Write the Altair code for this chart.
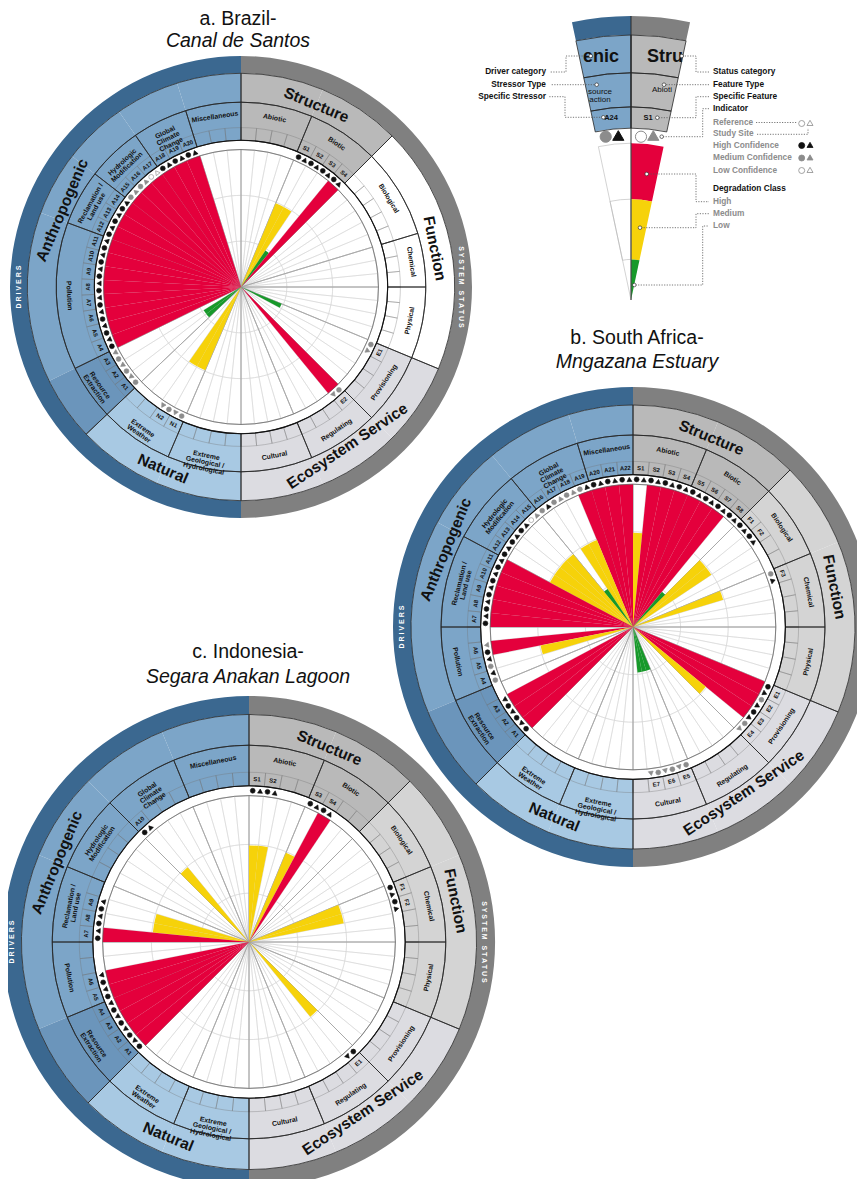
import math
import altair as alt
import pandas as pd

OFF = 8
W, H = 849, 1171
FONT = "Liberation Sans"

# ===================== DATA =====================
LEFT_TYPES = ["Miscellaneous", "Global\nClimate\nChange", "Hydrologic\nModification",
              "Reclamation /\nLand use", "Pollution", "Resource\nExtraction",
              "Extreme\nWeather", "Extreme\nGeological /\nHydrological"]
RIGHT_TYPES = ["Abiotic", "Biotic", "Biological", "Chemical", "Physical",
               "Provisioning", "Regulating", "Cultural"]
LEFT_GROUPS = ["Anthropogenic", "Natural"]
LEFT_GROUP_SIZE = [6, 2]
RIGHT_GROUPS = ["Structure", "Function", "Ecosystem Service"]
RIGHT_GROUP_SIZE = [2, 3, 3]

# ---- a. Brazil - Canal de Santos ----
BR_LEFT_SPANS = [3, 3, 3, 3, 8, 3, 4, 4]
BR_RIGHT_SPANS = [4, 4, 5, 3, 4, 4, 4, 4]
BR_DRIVER = ["A20", "A19", "A18", "A17", "A16", "A15", "A14", "A13", "A12", "A11", "A10",
             "A9", "A8", "A7", "A6", "A5", "A4", "A3", "A2", "A1", "N2", "N1"]
BR_DRIVER_SLOT = [3, 4, 5, 6, 7, 8, 9, 10, 11, 12, 13, 14, 15, 16, 17, 18, 19, 20, 21, 22, 25, 26]
BR_DRIVER_CLASS = ["High"] * 17 + ["", "Low", "Low", "Medium", "Medium"]
BR_DRIVER_REF = ["H", "H", "H", "L", "M", "M"] + ["H"] * 11 + ["M"] * 5
BR_DRIVER_SITE = ["H", "H", "H", "L", "M", "M"] + ["H"] * 11 + ["M"] * 5
BR_STATUS = ["S1", "S2", "S3", "S4", "E1", "E2"]
BR_STATUS_SLOT = [4, 5, 6, 7, 20, 24]
BR_STATUS_CLASS = ["Medium", "Medium", "Low", "High", "Low", "High"]
BR_STATUS_REF = ["H", "H", "H", "H", "M", "M"]
BR_STATUS_SITE = ["H", "H", "H", "H", "M", "M"]

# ---- b. South Africa - Mngazana Estuary ----
SA_LEFT_SPANS = [3, 4, 4, 5, 4, 4, 4, 4]
SA_RIGHT_SPANS = [4, 4, 4, 4, 4, 4, 4, 4]
SA_DRIVER = ["A22", "A21", "A20", "A19", "A18", "A17", "A16", "A15", "A14", "A13", "A12",
             "A11", "A10", "A9", "A8", "A7", "A6", "A5", "A4", "A3", "A2", "A1"]
SA_DRIVER_SLOT = [0, 1, 2, 3, 4, 5, 6, 7, 8, 9, 10, 11, 12, 13, 14, 15, 17, 18, 19, 21, 22, 23]
SA_DRIVER_CLASS = ["High", "High", "High", "High", "Medium", "Medium", "Low", "Medium", "Medium",
                   "Medium", "Medium", "High", "High", "High", "High", "High", "High", "Medium",
                   "", "High", "High", "High"]
SA_DRIVER_REF = ["H", "H", "H", "M", "M", "M", "M", "L", "H", "H", "H", "H", "H", "H", "H", "H",
                 "H", "M", "M", "H", "H", "H"]
SA_DRIVER_SITE = ["H", "H", "H", "H", "M", "M", "H", "M", "H", "H", "H", "H", "H", "H", "H", "H",
                  "M", "H", "H", "H", "H", "H"]
SA_STATUS = ["S1", "S2", "S3", "S4", "S5", "S6", "S7", "S8", "F1", "F2", "F3",
             "E1", "E2", "E3", "E4", "E5", "E6", "E7"]
SA_STATUS_SLOT = [0, 1, 2, 3, 4, 5, 6, 7, 8, 9, 12, 20, 21, 22, 23, 28, 29, 30]
SA_STATUS_CLASS = ["Medium", "High", "High", "High", "High", "High", "High", "Low", "Medium",
                   "Medium", "Medium", "High", "High", "High", "Medium", "Low", "Low", "Low"]
SA_STATUS_REF = ["H"] * 8 + ["H", "H", "M", "H", "M", "H", "M", "M", "M", "M"]
SA_STATUS_SITE = ["H"] * 8 + ["H", "H", "H", "H", "H", "H", "M", "M", "M", "M"]

# ---- c. Indonesia - Segara Anakan Lagoon ----
ID_LEFT_SPANS = [4, 4, 4, 4, 4, 4, 4, 4]
ID_RIGHT_SPANS = [4, 4, 4, 4, 4, 4, 4, 4]
ID_DRIVER = ["A10", "A9", "A8", "A7", "A6", "A5", "A4", "A3", "A2", "A1"]
ID_DRIVER_SLOT = [7, 13, 14, 15, 18, 19, 20, 21, 22, 23]
ID_DRIVER_CLASS = ["Medium", "Medium", "Medium", "High", "High", "High", "High", "High", "High", "High"]
ID_DRIVER_REF = ["H"] * 10
ID_DRIVER_SITE = ["H"] * 10
ID_STATUS = ["S1", "S2", "S3", "S4", "F1", "F2", "E1"]
ID_STATUS_SLOT = [0, 1, 4, 5, 12, 13, 24]
ID_STATUS_CLASS = ["Medium", "Medium", "Medium", "High", "Medium", "Medium", "Medium"]
ID_STATUS_REF = ["H"] * 7
ID_STATUS_SITE = ["H"] * 7

CHARTS = [
    dict(cx=241 - OFF, cy=287 - OFF, R=231, func_empty=True,
         lspans=BR_LEFT_SPANS, rspans=BR_RIGHT_SPANS,
         d=(BR_DRIVER, BR_DRIVER_SLOT, BR_DRIVER_CLASS, BR_DRIVER_REF, BR_DRIVER_SITE),
         s=(BR_STATUS, BR_STATUS_SLOT, BR_STATUS_CLASS, BR_STATUS_REF, BR_STATUS_SITE),
         title=("a.  Brazil-", "Canal de Santos"), tpos=(238 - OFF, 19 - OFF, 41 - OFF)),
    dict(cx=633 - OFF, cy=627 - OFF, R=240, func_empty=False,
         lspans=SA_LEFT_SPANS, rspans=SA_RIGHT_SPANS,
         d=(SA_DRIVER, SA_DRIVER_SLOT, SA_DRIVER_CLASS, SA_DRIVER_REF, SA_DRIVER_SITE),
         s=(SA_STATUS, SA_STATUS_SLOT, SA_STATUS_CLASS, SA_STATUS_REF, SA_STATUS_SITE),
         title=("b. South Africa-", "Mngazana Estuary"), tpos=(637 - OFF, 338 - OFF, 362 - OFF)),
    dict(cx=249 - OFF, cy=942 - OFF, R=246, func_empty=False,
         lspans=ID_LEFT_SPANS, rspans=ID_RIGHT_SPANS,
         d=(ID_DRIVER, ID_DRIVER_SLOT, ID_DRIVER_CLASS, ID_DRIVER_REF, ID_DRIVER_SITE),
         s=(ID_STATUS, ID_STATUS_SLOT, ID_STATUS_CLASS, ID_STATUS_REF, ID_STATUS_SITE),
         title=("c. Indonesia-", "Segara Anakan Lagoon"), tpos=(248 - OFF, 652 - OFF, 677 - OFF)),
]

# ===================== STYLE =====================
RING = (0.925, 0.80, 0.69, 0.635, 0.595)      # band / category / type / label / plot radii
GRID = ((0, 1 / 3), (1 / 3, 2 / 3), (2 / 3, 1))
BAR_LEN = {"High": 1.0, "Medium": 0.66, "Low": 0.32}
FILL_KEYS = ["bandL", "bandR", "Anthro", "Resource", "Natural", "Structure", "Function",
             "FunctionEmpty", "Eco", "white", "High", "Medium", "Low", "H", "M", "L"]
FILL_COLS = ["#3b6890", "#808080", "#7ca5c8", "#6b95bb", "#a8c9e3", "#b9b9b9", "#d4d4d4",
             "#ffffff", "#dcdce1", "#ffffff", "#e4003c", "#f6d20a", "#17992a",
             "#111111", "#8c8c8c", "#ffffff"]
FILL_SCALE = alt.Scale(domain=FILL_KEYS, range=FILL_COLS)
STROKE_SCALE = alt.Scale(domain=["H", "M", "L"], range=["#111111", "#8c8c8c", "#8c8c8c"])
CAT_FS = 15.5
TYPE_FS = 6.9
ITEM_FS = 5.9


def sector_deg(side, k0, k1, n):
    w = 180.0 / n
    if side == "L":
        return 360 - k1 * w, 360 - k0 * w
    return k0 * w, k1 * w


def polar(cx, cy, r, a):
    t = math.radians(a)
    return cx + r * math.sin(t), cy - r * math.cos(t)


def tangent_rot(a):
    a = ((a + 180) % 360) - 180
    if -90 <= a <= 90:
        r = a
    elif a > 90:
        r = a - 180
    else:
        r = a + 180
    return r % 360


def arc(cx, cy, r0, r1, a0, a1, kind=""):
    return dict(cx=cx, cy=cy, r0=r0, r1=r1, t0=math.radians(a0), t1=math.radians(a1), kind=kind)


def type_kind(side, ti, func_empty):
    if side == "L":
        if ti == 5:
            return "Resource"
        return "Anthro" if ti < 6 else "Natural"
    if ti < 2:
        return "Structure"
    if ti < 5:
        return "FunctionEmpty" if func_empty else "Function"
    return "Eco"


rows_fill, rows_lsec, rows_grid, rows_tb, rows_tout, rows_cout = [], [], [], [], [], []
rows_c4, rows_c5, rows_bar = [], [], []
rows_pc, rows_pt = [], []
rows_tcat, rows_ttype, rows_titem, rows_tband, rows_title, rows_sub = [], [], [], [], [], []

for C in CHARTS:
    cx, cy, R = C["cx"], C["cy"], C["R"]
    R1, R2, R3, R4, R5 = (R * f for f in RING)
    halves = {
        "L": (C["lspans"], LEFT_TYPES, LEFT_GROUPS, LEFT_GROUP_SIZE),
        "R": (C["rspans"], RIGHT_TYPES, RIGHT_GROUPS, RIGHT_GROUP_SIZE),
    }
    for side, (spans, types, groups, gsizes) in halves.items():
        n = sum(spans)
        a0, a1 = sector_deg(side, 0, n, n)
        rows_fill.append(arc(cx, cy, R1, R, a0, a1, "band" + side))
        starts = [sum(spans[:i]) for i in range(len(spans))]
        for ti, (tname, sp) in enumerate(zip(types, spans)):
            a0, a1 = sector_deg(side, starts[ti], starts[ti] + sp, n)
            rows_fill.append(arc(cx, cy, R4, R1, a0, a1, type_kind(side, ti, C["func_empty"])))
            rows_tout.append(arc(cx, cy, R4, R2, a0, a1))
            rows_tb.append(arc(cx, cy, 0, R5, a0, a1))
            am = (a0 + a1) / 2
            x, y = polar(cx, cy, (R2 + R3) / 2, am)
            rows_ttype.append(dict(x=x, y=y, text=tname, rot=tangent_rot(am)))
        gi = 0
        for g, gs in zip(groups, gsizes):
            k0 = starts[gi]
            k1 = starts[gi + gs - 1] + spans[gi + gs - 1]
            a0, a1 = sector_deg(side, k0, k1, n)
            rows_cout.append(arc(cx, cy, R2, R1, a0, a1))
            am = (a0 + a1) / 2
            L = len(g) * 0.6 * CAT_FS
            rm = (R1 + R2) / 2
            rr = rm - L * L / (16 * rm)
            x, y = polar(cx, cy, rr, am)
            rows_tcat.append(dict(x=x, y=y, text=g, rot=tangent_rot(am)))
            gi += gs
        for k in range(n):
            a0, a1 = sector_deg(side, k, k + 1, n)
            rows_lsec.append(arc(cx, cy, R4, R3, a0, a1))
            for q0, q1 in GRID:
                rows_grid.append(arc(cx, cy, R5 * q0, R5 * q1, a0, a1))
    rows_fill.append(arc(cx, cy, 0, R4, 0, 360, "white"))
    rows_c4.append(arc(cx, cy, 0, R4, 0, 360))
    rows_c5.append(arc(cx, cy, 0, R5, 0, 360))

    for side, (labels, slots, classes, refs, sites) in (("L", C["d"]), ("R", C["s"])):
        n = sum(C["lspans"] if side == "L" else C["rspans"])
        for lab, s, cl, rf, st in zip(labels, slots, classes, refs, sites):
            a0, a1 = sector_deg(side, s, s + 1, n)
            am = (a0 + a1) / 2
            x, y = polar(cx, cy, (R3 + R4) / 2, am)
            rows_titem.append(dict(x=x, y=y, text=lab, rot=tangent_rot(am)))
            if cl:
                rows_bar.append(arc(cx, cy, 0, R5 * BAR_LEN[cl], a0, a1, cl))
            d = 0.25 * (a1 - a0)
            rmk = (R4 + R5) / 2
            x, y = polar(cx, cy, rmk, am - d)
            rows_pc.append(dict(x=x, y=y, conf=rf, rot=0))
            x, y = polar(cx, cy, rmk, am + d)
            rows_pt.append(dict(x=x, y=y, conf=st, rot=am % 360))

    x, y = polar(cx, cy, (R + R1) / 2, 270)
    rows_tband.append(dict(x=x, y=y, text="D R I V E R S", rot=270))
    x, y = polar(cx, cy, (R + R1) / 2 - 2, 90)
    rows_tband.append(dict(x=x, y=y, text="S Y S T E M \u00a0\u00a0S T A T U S", rot=90))
    tx, ty1, ty2 = C["tpos"]
    rows_title.append(dict(x=tx, y=ty1, text=C["title"][0], rot=0))
    rows_sub.append(dict(x=tx, y=ty2, text=C["title"][1], rot=0))

# ===================== LEGEND WEDGE =====================
LG_CX, LG_CY, LG_R, LG_HALF = 631 - OFF, 300 - OFF, 284, 12
LG_F = dict(band=0.933, cat=0.80, type=0.68, label=0.605, plot=0.552, red=0.355, yellow=0.143)
lg_fill, lg_out, lg_grid = [], [], []
for side, a0, a1 in (("L", 360 - LG_HALF, 360), ("R", 0, LG_HALF)):
    lg_fill.append(arc(LG_CX, LG_CY, LG_R * LG_F["band"], LG_R, a0, a1, "band" + side))
    lg_fill.append(arc(LG_CX, LG_CY, LG_R * LG_F["label"], LG_R * LG_F["band"], a0, a1,
                       "Anthro" if side == "L" else "Structure"))
    lg_fill.append(arc(LG_CX, LG_CY, 0, LG_R * LG_F["label"], a0, a1, "white"))
    for f0, f1 in (("cat", "band"), ("type", "cat"), ("label", "type")):
        lg_out.append(arc(LG_CX, LG_CY, LG_R * LG_F[f0], LG_R * LG_F[f1], a0, a1))
lg_fill.append(arc(LG_CX, LG_CY, LG_R * LG_F["red"], LG_R * LG_F["plot"], 0, LG_HALF, "High"))
lg_fill.append(arc(LG_CX, LG_CY, LG_R * LG_F["yellow"], LG_R * LG_F["red"], 0, LG_HALF, "Medium"))
lg_fill.append(arc(LG_CX, LG_CY, 0, LG_R * LG_F["yellow"], 0, LG_HALF, "Low"))
lg_grid.append(arc(LG_CX, LG_CY, 0, LG_R * LG_F["plot"], 360 - LG_HALF, 360))
lg_grid.append(arc(LG_CX, LG_CY, LG_R * LG_F["yellow"], LG_R * LG_F["red"], 360 - LG_HALF, 360))

LEG_INNER_TEXT = [("enic", 601, 57, 18, "bold"), ("Stru", 665, 57, 18, "bold"),
                  ("source\naction", 600, 92, 8, "normal"), ("Abioti", 662, 90, 8, "normal"),
                  ("A24", 611, 117.5, 7.5, "bold"), ("S1", 648, 117.5, 7.5, "bold")]
LEG_RIGHT_TEXT = [("Status category", 72, "k"), ("Feature Type", 84.7, "k"),
                  ("Specific Feature", 96.7, "k"), ("Indicator", 108.7, "k"),
                  ("Reference", 122.5, "g"), ("Study Site", 134.3, "g"),
                  ("High Confidence", 146.3, "g"), ("Medium Confidence", 158.3, "g"),
                  ("Low Confidence", 170.7, "g"), ("Degradation Class", 188.7, "k"),
                  ("High", 201.7, "g"), ("Medium", 213.7, "g"), ("Low", 226, "g")]
LEG_LEFT_TEXT = [("Driver category", 72), ("Stressor Type", 84.7), ("Specific Stressor", 96.7)]
LEG_SYMBOL_ROWS = [(123.5, "L", "L"), (145.5, "H", "H"), (158, "M", "M"), (170.5, "L", "L")]
LEG_BIG_SYMBOLS = [("circle", 605.7, 136.7, "M"), ("triangle", 618.3, 135.5, "H"),
                   ("circle", 641, 136.7, "L"), ("triangle", 653.3, 135.5, "M")]
LEG_DOTS = [(590.7, 56), (596.7, 84.7), (603.3, 117.3), (681.7, 56), (664, 84.7),
            (657.3, 117.7), (661.7, 136.7), (646.7, 174), (640, 227.7), (634.3, 285)]
LEG_LEADERS = [
    [(550.7, 72), (566, 72), (566, 56), (590, 56)],
    [(551.7, 84.7), (596, 84.7)],
    [(549.3, 96.7), (565, 96.7), (565, 117.3), (602, 117.3)],
    [(709, 72), (696, 72), (696, 56), (682, 56)],
    [(709, 84.7), (665, 84.7)],
    [(709, 96.7), (696, 96.7), (696, 117.7), (658, 117.7)],
    [(709, 108.7), (702.7, 108.7), (702.7, 136.7), (663, 136.7)],
    [(756, 122.5), (797, 122.5)],
    [(757, 134.3), (808, 134.3), (808, 128)],
    [(648, 174), (696, 174), (696, 201.7), (709, 201.7)],
    [(641, 227.7), (696, 227.7), (696, 213.7), (709, 213.7)],
    [(635.5, 285), (702.7, 285), (702.7, 226), (709, 226)],
]

# ===================== LAYERS =====================
XY = dict(x=alt.X("x:Q", scale=None, axis=None), y=alt.Y("y:Q", scale=None, axis=None))


def arc_enc():
    return dict(x=alt.X("cx:Q", scale=None, axis=None), y=alt.Y("cy:Q", scale=None, axis=None),
                theta=alt.Theta("t0:Q", scale=None, stack=None), theta2=alt.Theta2("t1:Q"),
                radius=alt.Radius("r1:Q", scale=None), radius2=alt.Radius2("r0:Q"))


def arcs_filled(rows):
    enc = arc_enc()
    enc["fill"] = alt.Fill("kind:N", scale=FILL_SCALE, legend=None)
    return alt.Chart(pd.DataFrame(rows)).mark_arc(strokeWidth=0).encode(**enc)


def arcs_outline(rows, color, width):
    return alt.Chart(pd.DataFrame(rows)).mark_arc(
        fill="#ffffff", fillOpacity=0, stroke=color, strokeWidth=width).encode(**arc_enc())


def texts(rows, size, weight="bold", color="#111111", style="normal", align="center", lh=1.0):
    return alt.Chart(pd.DataFrame(rows)).mark_text(
        font=FONT, fontSize=size, fontWeight=weight, fontStyle=style, color=color,
        align=align, baseline="middle", lineBreak="\n", lineHeight=size * lh).encode(
        text="text:N", angle=alt.Angle("rot:Q", scale=None), **XY)


def points(rows, shape, size, width=0.6):
    return alt.Chart(pd.DataFrame(rows)).mark_point(
        shape=shape, filled=True, size=size, strokeWidth=width, opacity=1).encode(
        fill=alt.Fill("conf:N", scale=FILL_SCALE, legend=None),
        stroke=alt.Stroke("conf:N", scale=STROKE_SCALE, legend=None),
        angle=alt.Angle("rot:Q", scale=None), **XY)


layers = [
    arcs_filled(rows_fill),
    arcs_outline(rows_lsec, "#707070", 0.35),
    arcs_outline(rows_grid, "#d4d4d4", 0.5),
    arcs_outline(rows_tb, "#a0a0a0", 0.65),
    arcs_filled(rows_bar),
    arcs_outline(rows_tout, "#262626", 0.8),
    arcs_outline(rows_cout, "#262626", 0.8),
    arcs_outline(rows_c4, "#111111", 1.1),
    arcs_outline(rows_c5, "#555555", 0.6),
    # legend wedge
    arcs_filled(lg_fill),
    arcs_outline(lg_grid, "#b5b5b5", 0.6),
    arcs_outline(lg_out, "#262626", 0.8),
    alt.Chart(pd.DataFrame([dict(x=LG_CX, y=LG_CY - LG_R, y2=LG_CY)])).mark_rule(
        color="#222222", strokeWidth=0.9).encode(
        x=alt.X("x:Q", scale=None, axis=None), y=alt.Y("y:Q", scale=None, axis=None),
        y2=alt.Y2("y2:Q")),
]

# markers
layers.append(points(rows_pc, "circle", 24))
layers.append(points(rows_pt, "triangle-up", 24))

# texts of the three diagrams
layers.append(texts(rows_tcat, CAT_FS))
layers.append(texts(rows_ttype, TYPE_FS, lh=0.98))
layers.append(texts(rows_titem, ITEM_FS))
layers.append(texts(rows_tband, 7, color="#ffffff"))
layers.append(texts(rows_title, 19.5, weight="normal"))
layers.append(texts(rows_sub, 19.5, weight="normal", style="italic"))

# legend texts / symbols / leaders
lead_rows = []
for i, seg in enumerate(LEG_LEADERS):
    for j, (px, py) in enumerate(seg):
        lead_rows.append(dict(x=px - OFF, y=py - OFF, seg=i, ord=j))
layers.append(alt.Chart(pd.DataFrame(lead_rows)).mark_line(
    color="#555555", strokeWidth=0.8, strokeDash=[1.2, 1.4]).encode(
    detail="seg:N", order="ord:Q", **XY))

for t, px, py, fs, fw in LEG_INNER_TEXT:
    layers.append(texts([dict(x=px - OFF, y=py - OFF, text=t, rot=0)], fs, weight=fw, lh=1.05))
layers.append(texts([dict(x=713 - OFF, y=py - OFF, text=t, rot=0) for t, py, c in LEG_RIGHT_TEXT if c == "k"],
                    8.3, align="left"))
layers.append(texts([dict(x=713 - OFF, y=py - OFF, text=t, rot=0) for t, py, c in LEG_RIGHT_TEXT if c == "g"],
                    8.3, align="left", color="#8c8c8c"))
layers.append(texts([dict(x=546 - OFF, y=py - OFF, text=t, rot=0) for t, py in LEG_LEFT_TEXT],
                    8.3, align="right"))

sym_c = [dict(x=801.7 - OFF, y=py - OFF, conf=c1, rot=0) for py, c1, c2 in LEG_SYMBOL_ROWS]
sym_t = [dict(x=810 - OFF, y=py - 0.6 - OFF, conf=c2, rot=0) for py, c1, c2 in LEG_SYMBOL_ROWS]
layers.append(points(sym_c, "circle", 36, 0.8))
layers.append(points(sym_t, "triangle-up", 36, 0.8))
big_c = [dict(x=px - OFF, y=py - OFF, conf=c, rot=0) for s, px, py, c in LEG_BIG_SYMBOLS if s == "circle"]
big_t = [dict(x=px - OFF, y=py - OFF, conf=c, rot=0) for s, px, py, c in LEG_BIG_SYMBOLS if s == "triangle"]
layers.append(points(big_c, "circle", 125, 1.0))
layers.append(points(big_t, "triangle-up", 125, 1.0))
layers.append(alt.Chart(pd.DataFrame([dict(x=px - OFF, y=py - OFF) for px, py in LEG_DOTS])).mark_point(
    shape="circle", filled=True, size=13, fill="#ffffff", stroke="#333333", strokeWidth=0.7,
    opacity=1).encode(**XY))

chart = alt.layer(*layers).properties(
    width=W, height=H, padding=0, autosize="none"
).configure_view(stroke=None)

chart.save("out.html", embed_options={"renderer": "svg", "actions": False})
